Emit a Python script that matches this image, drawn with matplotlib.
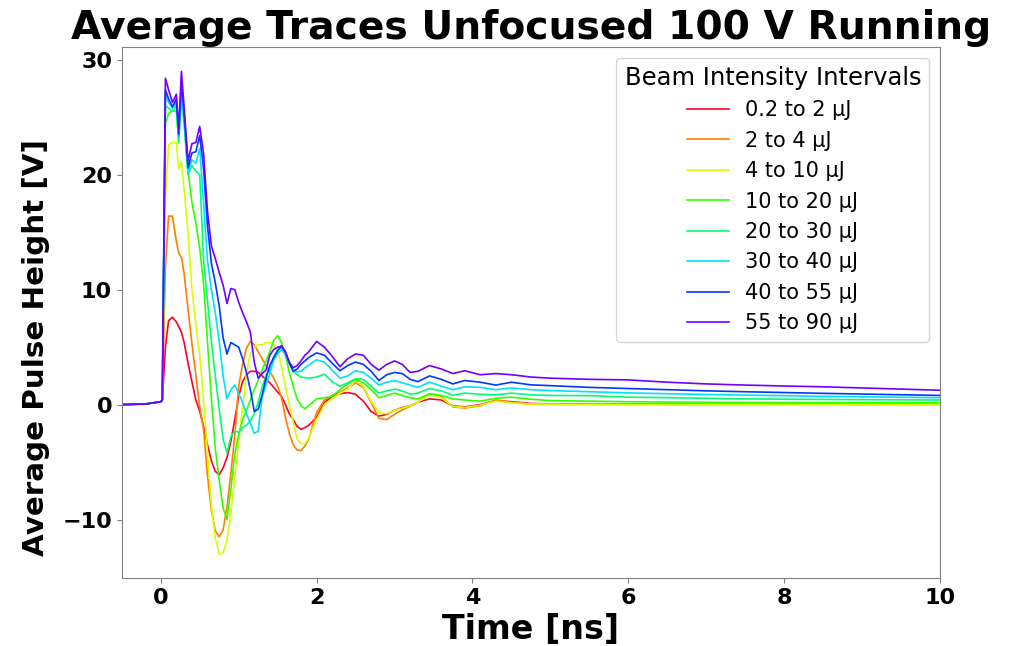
import numpy as np
import matplotlib
matplotlib.use("Agg")
import matplotlib.pyplot as plt

# time grid (ns) shared by all averaged traces
time_ns = [-0.5, -0.2, 0.0, 0.02, 0.06, 0.1, 0.15, 0.2, 0.23, 0.265,
           0.3, 0.35, 0.4, 0.45, 0.5, 0.55, 0.6, 0.65, 0.7, 0.75,
           0.8, 0.85, 0.9, 0.95, 1.0, 1.05, 1.1, 1.15, 1.2, 1.25,
           1.3, 1.35, 1.4, 1.45, 1.5, 1.55, 1.6, 1.65, 1.7, 1.75,
           1.8, 1.85, 1.9, 2.0, 2.1, 2.2, 2.3, 2.4, 2.5, 2.6,
           2.7, 2.8, 2.9, 3.0, 3.1, 3.2, 3.3, 3.45, 3.6, 3.75,
           3.9, 4.1, 4.3, 4.5, 4.75, 5.0, 5.5, 6.0, 6.5, 7.0,
           7.5, 8.0, 8.5, 9.0, 9.5, 10.0]

labels = ["0.2 to 2 µJ", "2 to 4 µJ", "4 to 10 µJ", "10 to 20 µJ",
          "20 to 30 µJ", "30 to 40 µJ", "40 to 55 µJ", "55 to 90 µJ"]

v_02_2 = [0.0, 0.05, 0.25, 0.4, 5.0, 7.3, 7.6, 7.2, 6.8, 6.3,
          5.4, 3.6, 2.0, 0.4, -0.6, -1.9, -3.5, -4.9, -5.8, -6.1,
          -5.5, -4.6, -3.2, -1.3, 0.7, 2.0, 2.6, 2.9, 2.9, 2.8,
          2.5, 2.2, 1.9, 1.5, 1.1, 0.7, 0.0, -0.8, -1.3, -1.9,
          -2.15, -2.0, -1.8, -1.1, 0.2, 0.7, 0.95, 1.05, 0.9, 0.3,
          -0.6, -1.0, -0.85, -0.5, -0.25, -0.1, 0.2, 0.5, 0.4, -0.1,
          -0.2, 0.0, 0.35, 0.25, 0.1, 0.05, 0.05, 0.05, 0.05, 0.05,
          0.04, 0.04, 0.04, 0.03, 0.03, 0.03]

v_2_4 = [0.0, 0.05, 0.25, 0.4, 12.0, 16.4, 16.4, 14.2, 13.2, 12.8,
         11.4, 8.3, 5.3, 2.6, -0.2, -2.2, -6.2, -9.2, -11.0, -11.5,
         -10.9, -8.9, -6.0, -2.7, 1.6, 3.5, 4.9, 5.5, 5.2, 4.6,
         4.0, 3.4, 2.9, 2.3, 1.6, 0.6, -1.1, -2.5, -3.5, -3.95,
         -4.0, -3.6, -3.0, -0.7, 0.4, 0.8, 1.1, 1.45, 1.9, 1.5,
         0.2, -1.2, -1.3, -0.85, -0.45, -0.15, 0.2, 0.95, 0.7, -0.2,
         -0.3, -0.1, 0.4, 0.2, 0.05, 0.03, 0.02, 0.02, 0.02, 0.02,
         0.02, 0.02, 0.02, 0.02, 0.02, 0.02]

v_4_10 = [0.0, 0.05, 0.25, 0.4, 18.0, 22.6, 22.8, 22.8, 20.5, 21.1,
          18.7, 15.0, 10.0, 7.0, 4.3, 0.3, -4.2, -8.8, -11.6, -13.0,
          -12.9, -11.8, -9.4, -6.3, -3.2, -0.3, 2.8, 4.4, 5.0, 5.2,
          5.2, 5.4, 5.4, 5.2, 4.8, 3.3, 1.6, 0.0, -1.5, -3.0,
          -3.4, -3.4, -2.9, -1.3, 0.0, 0.5, 1.0, 1.35, 2.1, 1.6,
          0.3, -0.7, -0.8, -0.5, -0.3, -0.1, 0.2, 0.85, 0.6, -0.15,
          -0.25, -0.05, 0.3, 0.15, 0.05, 0.03, 0.02, 0.02, 0.02, 0.02,
          0.02, 0.02, 0.02, 0.02, 0.02, 0.02]

v_10_20 = [0.0, 0.05, 0.25, 0.4, 24.5, 25.3, 25.6, 25.5, 23.0, 26.5,
           24.5, 20.3, 17.6, 15.8, 13.6, 10.5, 5.4, 0.5, -3.8, -6.6,
           -9.0, -10.0, -7.3, -4.3, -2.6, -1.3, -0.5, 0.4, 1.3, 2.1,
           3.0, 3.8, 4.6, 5.6, 6.0, 5.4, 4.3, 2.8, 1.6, 0.5,
           -0.1, -0.35, -0.1, 0.5, 0.6, 0.7, 1.3, 1.8, 2.2, 1.9,
           1.3, 0.6, 0.8, 1.0, 0.8, 0.6, 0.5, 0.95, 0.8, 0.5,
           0.4, 0.3, 0.55, 0.65, 0.47, 0.35, 0.3, 0.25, 0.22, 0.2,
           0.19, 0.18, 0.17, 0.17, 0.16, 0.15]

v_20_30 = [0.0, 0.05, 0.25, 0.4, 26.0, 25.8, 25.5, 26.0, 22.8, 27.0,
           24.5, 20.0, 20.8, 20.3, 20.0, 12.5, 9.0, 5.5, 2.5, -0.4,
           -3.0, -4.2, -2.8, -2.3, -2.4, -2.0, -1.8, -1.4, -0.8, 0.2,
           1.5, 2.5, 3.2, 4.2, 4.7, 5.0, 4.3, 3.6, 2.9, 2.6,
           2.4, 2.35, 2.3, 2.4, 2.65, 2.0, 1.6, 1.9, 2.25, 2.2,
           1.6, 1.0, 1.2, 1.35, 1.2, 0.9, 1.0, 1.4, 1.2, 0.8,
           1.0, 0.9, 0.85, 1.0, 0.85, 0.8, 0.78, 0.65, 0.6, 0.55,
           0.5, 0.47, 0.45, 0.43, 0.41, 0.4]

v_30_40 = [0.0, 0.05, 0.25, 0.4, 27.0, 26.3, 25.8, 26.3, 23.3, 27.5,
           25.0, 20.2, 21.3, 21.0, 22.3, 17.5, 12.5, 10.0, 8.0, 5.5,
           2.5, 0.5, 1.3, 1.7, 1.0, 0.2, -0.8, -1.6, -2.5, -2.3,
           0.6, 1.7, 2.7, 3.9, 4.4, 4.8, 4.4, 3.6, 3.0, 2.85,
           2.9, 3.2, 3.45, 3.9, 3.7, 3.0, 2.3, 2.5, 2.95, 2.8,
           2.3, 1.7, 1.95, 2.1, 1.9, 1.7, 1.5, 1.95, 1.6, 1.3,
           1.55, 1.5, 1.3, 1.45, 1.3, 1.22, 1.12, 1.02, 0.95, 0.88,
           0.82, 0.78, 0.72, 0.68, 0.64, 0.6]

v_40_55 = [0.0, 0.05, 0.25, 0.4, 27.4, 26.6, 25.9, 26.6, 23.5, 28.0,
           25.3, 20.6, 21.9, 22.0, 23.4, 20.5, 15.5, 12.3, 10.6, 8.6,
           5.8, 4.4, 5.4, 5.2, 5.0, 4.0, 2.8, 1.3, -0.6, -0.4,
           0.8, 2.3, 3.4, 4.1, 4.7, 5.1, 4.6, 3.6, 2.9, 3.1,
           3.5, 3.8, 4.1, 4.5, 4.3, 3.6, 2.95, 3.4, 3.7, 3.5,
           2.9, 2.1, 2.6, 2.8, 2.7, 2.2, 2.0, 2.5, 2.2, 1.8,
           2.1, 1.95, 1.7, 1.95, 1.72, 1.65, 1.5, 1.4, 1.3, 1.2,
           1.12, 1.05, 0.98, 0.92, 0.86, 0.8]

v_55_90 = [0.0, 0.05, 0.25, 0.4, 28.4, 27.4, 26.3, 27.0, 24.0, 29.0,
           25.9, 21.2, 22.7, 22.8, 24.2, 21.8, 16.8, 13.8, 12.7, 11.5,
           10.4, 8.8, 10.1, 10.0, 8.9, 8.0, 7.2, 6.3, 3.7, 2.3,
           2.7, 3.0, 4.3, 4.8, 5.0, 5.1, 4.6, 3.7, 3.2, 3.4,
           3.8, 4.3, 4.6, 5.5, 5.0, 4.2, 3.3, 4.0, 4.4, 4.3,
           3.5, 3.0, 3.5, 3.8, 3.5, 2.8, 2.9, 3.4, 3.1, 2.7,
           2.95, 2.6, 2.7, 2.6, 2.4, 2.3, 2.2, 2.15, 1.95, 1.8,
           1.7, 1.62, 1.55, 1.45, 1.35, 1.25]

traces = [v_02_2, v_2_4, v_4_10, v_10_20, v_20_30, v_30_40, v_40_55, v_55_90]
colors = plt.cm.gist_rainbow(np.linspace(0, 0.85, len(traces)))

fig, ax = plt.subplots(figsize=(10.15, 6.46), dpi=100)
fig.subplots_adjust(left=0.120, right=0.926, top=0.927, bottom=0.105)

for vals, lab, col in zip(traces, labels, colors):
    ax.plot(time_ns, vals, color=col, lw=1.2, label=lab)

ax.set_xlim(-0.5, 10)
ax.set_xticks([0, 2, 4, 6, 8, 10])
ax.set_yticks([-10, 0, 10, 20, 30])
ax.set_title("Average Traces Unfocused 100 V Running", fontsize=28.3,
             fontweight="bold")
ax.set_xlabel("Time [ns]", fontsize=24, fontweight="bold")
ax.set_ylabel("Average Pulse Height [V]", fontsize=21.2, fontweight="bold")
ax.yaxis.set_label_coords(-0.088, 0.435)
ax.tick_params(labelsize=16)
for t in ax.get_xticklabels() + ax.get_yticklabels():
    t.set_fontweight("bold")
for s in ax.spines.values():
    s.set_color("#808080")
ax.tick_params(color="#808080")

ax.legend(title="Beam Intensity Intervals", fontsize=15, title_fontsize=17.5,
          loc="upper right", labelspacing=0.5)

plt.savefig("out.png", dpi=100)
